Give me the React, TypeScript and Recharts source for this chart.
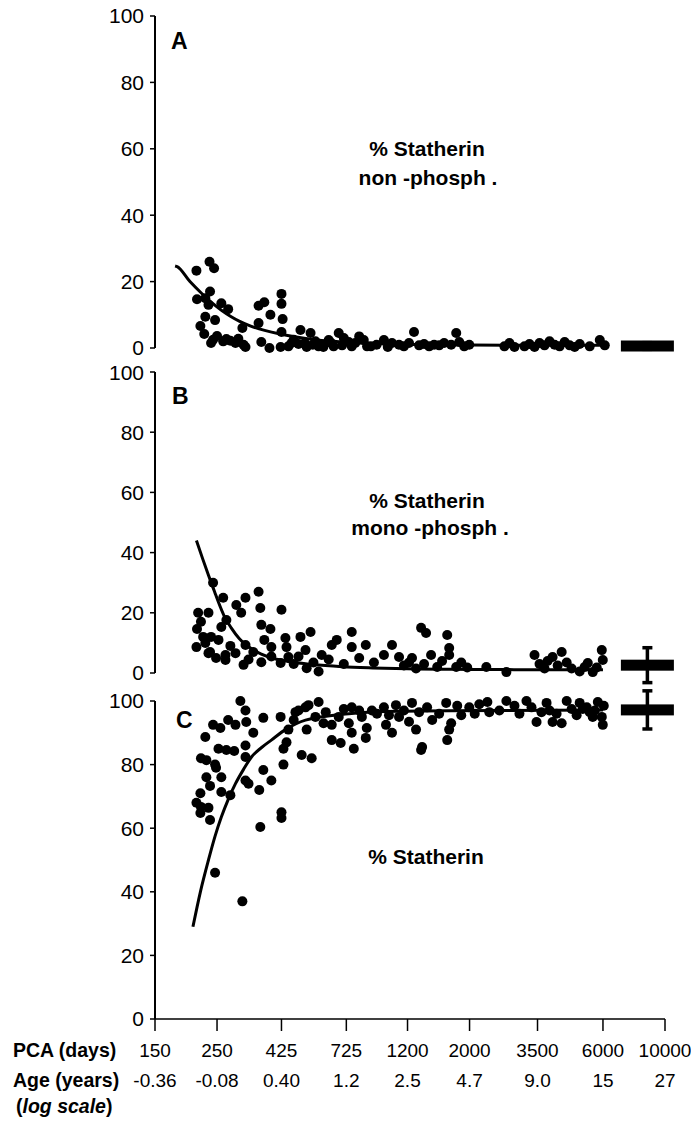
import React from 'react';
import { ComposedChart, Scatter, Line, XAxis, YAxis, ReferenceLine } from 'recharts';

const FONT = '"Liberation Sans", Arial, sans-serif';

const PCA_TICKS = [150, 250, 425, 725, 1200, 2000, 3500, 6000, 10000];
const AGE_LABELS = ['-0.36', '-0.08', '0.40', '1.2', '2.5', '4.7', '9.0', '15', '27'];
const Y_TICKS = [0, 20, 40, 60, 80, 100];

// [PCA days, %]
const POINTS_A = [
  [211, 23.3], [235, 26], [244, 24], [212, 14.7], [227, 15], [236, 17], [233, 13], [259, 13.5],
  [274, 11.7], [227, 9.4], [246, 8.4], [218, 6.6], [225, 4.2], [238, 1.5], [250, 3.6], [270, 2.7],
  [291, 1.5], [308, 6], [316, 0.3], [352, 12.7], [369, 13.8], [388, 10], [425, 16.3], [425, 13.3],
  [429, 8.7], [352, 7.5], [360, 1.8], [385, 0], [422, 0.3], [425, 4.8], [462, 1.5], [497, 5.4],
  [540, 4.5], [523, 0.3], [577, 0.5], [627, 2.4], [681, 4.5], [653, 0.5], [758, 0.5], [837, 2.4],
  [887, 0.5], [988, 2.4], [1056, 1.5], [242, 2.5], [263, 2], [279, 2.2], [298, 2.8], [311, 1],
  [489, 1.2], [562, 2], [601, 1], [710, 3], [740, 1.8], [806, 3.5], [450, 0.5], [470, 2.5],
  [515, 1.5], [550, 1], [600, 0.3], [640, 1.5], [700, 0.8], [780, 1.5], [860, 0.5], [930, 1],
  [1020, 0.3], [1119, 1], [1165, 0.5], [1215, 1.5], [1266, 4.8], [1320, 0.8], [1375, 1.2],
  [1434, 0.5], [1494, 1], [1557, 0.8], [1622, 1.5], [1719, 1], [1792, 4.5], [1837, 1.8],
  [1914, 0.5], [1995, 1], [2665, 0.5], [2778, 1.5], [2895, 0.3], [3144, 0.5], [3276, 1.2],
  [3415, 0.3], [3559, 1.5], [3709, 0.8], [3865, 2], [4030, 1], [4199, 0.5], [4377, 1.8],
  [4561, 0.8], [4753, 0.3], [4953, 1.2], [5380, 0.5], [5845, 2.4], [6090, 0.8],
];
const CURVE_A = [
  [177, 24.7], [180, 24.5], [200, 20], [220, 16.5], [240, 13.6], [260, 11.3], [280, 9.5],
  [300, 8.1], [330, 6.6], [370, 5.3], [420, 4.2], [480, 3.3], [550, 2.6], [650, 2.0], [800, 1.5],
  [1000, 1.2], [1400, 1.0], [2000, 0.9], [3500, 0.8], [6000, 0.8],
];
const MEAN_A = { x: 8650, y: 0.6, sd: 1.0 };

const POINTS_B = [
  [242, 30], [263, 25], [214, 20], [233, 20], [270, 17.6], [293, 22.6], [316, 25], [305, 20],
  [352, 27], [357, 21.6], [360, 16], [388, 14.6], [425, 21], [212, 14.6], [223, 12], [211, 8.6],
  [238, 12], [259, 15.3], [253, 11], [233, 6.6], [268, 6], [291, 6.6], [316, 9.3], [369, 11],
  [391, 8.6], [439, 11.6], [443, 8.6], [497, 12], [540, 13.6], [518, 7.6], [592, 6], [643, 9.3],
  [670, 11], [758, 13.6], [758, 8.6], [851, 9.3], [988, 6], [1056, 9.3], [236, 7], [268, 4.3],
  [311, 2.7], [360, 3.6], [391, 5.5], [422, 3.3], [450, 5.3], [523, 1.6], [577, 0.5], [219, 17],
  [227, 10], [248, 5], [279, 9], [324, 4.5], [337, 7], [470, 3], [489, 5.5], [553, 3.5],
  [627, 4.5], [710, 3], [806, 5], [910, 3.5], [1119, 5.3], [1245, 5], [1342, 15], [1398, 13.3],
  [1457, 6], [1664, 12.6], [1691, 8.3], [1691, 6], [1792, 2], [1962, 1.8], [2296, 2], [2709, 0.3],
  [3415, 6], [3963, 5.3], [4270, 7], [4953, 0.5], [5295, 3.3], [5942, 7.6], [5991, 4.3],
  [5515, 0.3], [1165, 2.5], [1215, 3.5], [1287, 1.5], [1375, 3], [1532, 2], [1595, 4], [1868, 3.5],
  [3559, 3], [3709, 1.5], [3803, 4], [4131, 2.5], [4450, 3.5], [4635, 1.5], [5160, 2], [5700, 1.8],
];
const CURVE_B = [
  [211, 44], [222, 38], [233, 32.5], [245, 27], [253, 23.5], [265, 19], [281, 15], [300, 11.5],
  [316, 9.5], [340, 7.5], [360, 6.3], [400, 4.8], [450, 3.8], [550, 2.8], [700, 2.1], [900, 1.7],
  [1200, 1.4], [2000, 1.2], [3500, 1.1], [6000, 1.1],
];
const MEAN_B = { x: 8650, y: 2.6, sd: 5.8 };

const POINTS_C = [
  [303, 100], [316, 97], [318, 93.4], [242, 92.5], [257, 91.5], [274, 94], [291, 92.5], [227, 88.7],
  [253, 85], [270, 84.6], [288, 84.3], [316, 86], [316, 82.4], [219, 82], [229, 81.4], [246, 80],
  [248, 79], [229, 76], [259, 76], [236, 73.3], [259, 71.4], [279, 70.4], [218, 71], [211, 68],
  [219, 66.7], [233, 66.4], [218, 64.8], [236, 62.6], [246, 46], [308, 37], [316, 75], [324, 74],
  [354, 72], [357, 60.4], [366, 78.3], [391, 75], [425, 65], [425, 63.2], [432, 80], [443, 87],
  [432, 85], [366, 94.7], [422, 95], [477, 96.5], [518, 98], [531, 98.7], [523, 91], [502, 83],
  [545, 82], [577, 99.7], [612, 96.5], [643, 92.5], [643, 87.7], [692, 86.8], [758, 90], [771, 85],
  [758, 98], [824, 95], [858, 91.5], [851, 88.4], [895, 97], [988, 98], [1005, 92.5], [1056, 90],
  [1091, 98.7], [1119, 95], [1245, 99.4], [1287, 91], [1353, 85.5], [1342, 84.6], [1470, 94],
  [1650, 99.4], [1719, 93], [1691, 91], [1664, 87.7], [1807, 98.5], [1995, 98], [2316, 99.7],
  [2709, 100], [2353, 96.5], [3196, 100], [3331, 98], [3472, 93.4], [3771, 99.4], [3963, 93.4],
  [4270, 93], [4450, 100], [4953, 99.4], [5250, 98], [5515, 95], [5750, 99.7], [5942, 95],
  [5991, 92.5], [337, 90], [450, 91], [470, 94], [489, 97], [562, 95], [601, 93], [681, 95],
  [710, 97.5], [740, 93], [806, 97], [933, 96], [1030, 95.5], [1165, 97], [1215, 93.5], [1320, 96.5],
  [1410, 98], [1557, 96], [1868, 95.5], [2087, 96], [2167, 99], [2557, 97], [2895, 98.5],
  [3016, 96], [3616, 96.5], [3865, 97], [4095, 96], [4635, 97.5], [4830, 95.5], [5080, 97.5],
  [5380, 96.5], [5610, 97], [6040, 98.5],
];
const CURVE_C = [
  [205, 29], [218, 40], [233, 50], [246, 57.5], [259, 63.5], [274, 69], [291, 74], [311, 78.5],
  [332, 82.4], [360, 85.3], [391, 87.7], [439, 91], [518, 94], [740, 96], [1119, 96.8], [2557, 97],
  [6000, 97.2],
];
const MEAN_C = { x: 8650, y: 97.2, sd: 6 };

const toXY = (rows: number[][]) => rows.map(([x, y]) => ({ x, y }));

function Dot(props: any) {
  return <circle cx={props.cx} cy={props.cy} r={5} fill="#000" />;
}

function MeanBar(props: any) {
  return <rect x={props.cx - 26.5} y={props.cy - 5.5} width={53} height={11} fill="#000" />;
}

function SdBar(props: any) {
  const { x1, y1, x2, y2 } = props;
  return (
    <g stroke="#000" strokeWidth={3.5}>
      <line x1={x1} y1={y1} x2={x2} y2={y2} />
      <line x1={x1 - 5} y1={y1} x2={x1 + 5} y2={y1} />
      <line x1={x2 - 5} y1={y2} x2={x2 + 5} y2={y2} />
    </g>
  );
}

function XTick(props: any) {
  const { x, y, payload } = props;
  const i = PCA_TICKS.indexOf(payload.value);
  return (
    <g fontFamily={FONT} fontSize={19} fill="#000">
      <text x={x} y={y + 24} textAnchor="middle">{payload.value}</text>
      <text x={x} y={y + 54} textAnchor="middle">{AGE_LABELS[i]}</text>
    </g>
  );
}

function Panel({ top, height, marginTop, marginBottom, points, curve, mean, showX }: any) {
  return (
    <div style={{ position: 'absolute', left: 0, top }}>
      <ComposedChart
        width={691}
        height={height}
        margin={{ top: marginTop, right: 26, bottom: marginBottom, left: 0 }}
      >
        <XAxis
          type="number"
          dataKey="x"
          scale="log"
          domain={[150, 10000]}
          ticks={PCA_TICKS}
          hide={!showX}
          height={90}
          tickSize={12}
          axisLine={{ stroke: '#000', strokeWidth: 1.5 }}
          tickLine={{ stroke: '#000', strokeWidth: 1.5 }}
          tick={<XTick />}
          interval={0}
        />
        <YAxis
          type="number"
          domain={[0, 100]}
          ticks={Y_TICKS}
          width={155}
          tickSize={5}
          tickMargin={6}
          axisLine={{ stroke: '#000', strokeWidth: 2 }}
          tickLine={{ stroke: '#000', strokeWidth: 1.5 }}
          tick={{ fontSize: 21, fill: '#000', fontFamily: FONT }}
        />
        <Line
          data={toXY(curve)}
          dataKey="y"
          type="monotone"
          stroke="#000"
          strokeWidth={3}
          dot={false}
          isAnimationActive={false}
        />
        <Scatter data={toXY(points)} dataKey="y" shape={Dot} isAnimationActive={false} />
        <ReferenceLine
          segment={[
            { x: mean.x, y: mean.y - mean.sd },
            { x: mean.x, y: mean.y + mean.sd },
          ]}
          ifOverflow="visible"
          shape={SdBar}
        />
        <Scatter data={[{ x: mean.x, y: mean.y }]} dataKey="y" shape={MeanBar} isAnimationActive={false} />
      </ComposedChart>
    </div>
  );
}

export default function App() {
  return (
    <div style={{ position: 'absolute', left: 0, top: 0, width: 691, height: 1124, background: '#fff' }}>
      <Panel top={0} height={362} marginTop={16} marginBottom={14} points={POINTS_A} curve={CURVE_A} mean={MEAN_A} />
      <Panel top={360} height={330} marginTop={12} marginBottom={17} points={POINTS_B} curve={CURVE_B} mean={MEAN_B} />
      <Panel top={685} height={439} marginTop={16} marginBottom={15} points={POINTS_C} curve={CURVE_C} mean={MEAN_C} showX />
      <svg
        width={691}
        height={1124}
        style={{ position: 'absolute', left: 0, top: 0, pointerEvents: 'none' }}
        fontFamily={FONT}
        fill="#000"
      >
        <g fontWeight="bold" fontSize={23}>
          <text x={171} y={49}>A</text>
          <text x={172} y={404}>B</text>
          <text x={176} y={728}>C</text>
        </g>
        <g fontWeight="bold" fontSize={21} textAnchor="middle">
          <text x={427} y={156}>% Statherin</text>
          <text x={428} y={185}>non -phosph .</text>
          <text x={427} y={508}>% Statherin</text>
          <text x={430} y={535}>mono -phosph .</text>
          <text x={426} y={864}>% Statherin</text>
        </g>
        <g fontWeight="bold" fontSize={19.5}>
          <text x={13} y={1057}>PCA (days)</text>
          <text x={13} y={1087}>Age (years)</text>
          <text x={16} y={1113}>
            (<tspan fontStyle="italic">log scale</tspan>)
          </text>
        </g>
      </svg>
    </div>
  );
}
